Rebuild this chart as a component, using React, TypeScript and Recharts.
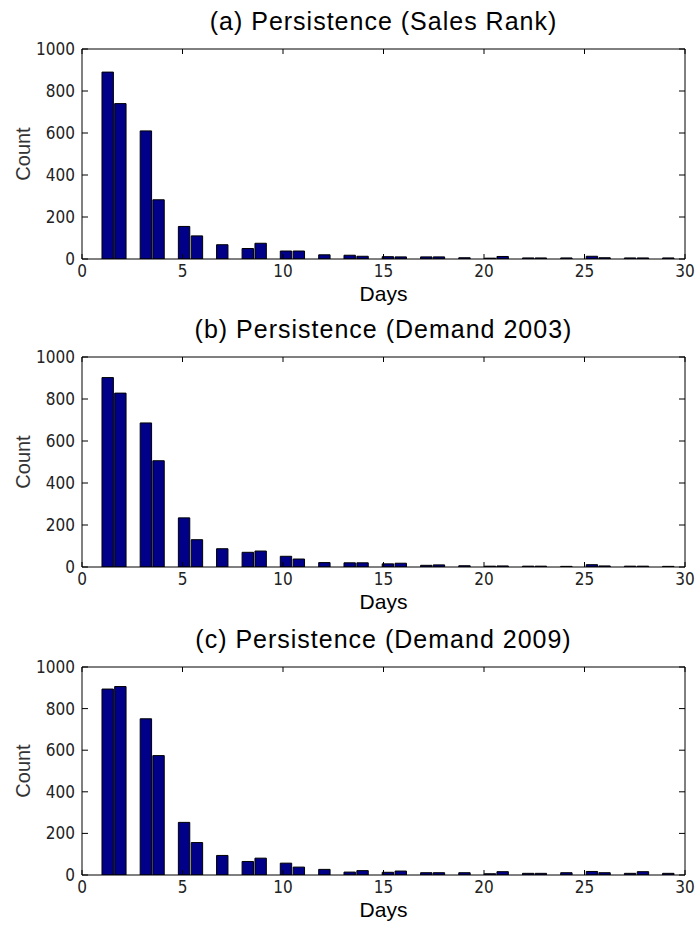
import React from "react";
import { BarChart, Bar, XAxis, YAxis } from "recharts";

// histogram bin centres (days), 45 bins
const binCenters = [
  1.26, 1.89, 2.53, 3.16, 3.79, 4.43, 5.06, 5.7, 6.33, 6.96, 7.6, 8.23, 8.87,
  9.5, 10.13, 10.77, 11.4, 12.04, 12.67, 13.3, 13.94, 14.57, 15.2, 15.84,
  16.47, 17.11, 17.74, 18.38, 19.01, 19.64, 20.28, 20.91, 21.55, 22.18, 22.81,
  23.45, 24.08, 24.71, 25.35, 25.98, 26.62, 27.25, 27.89, 28.52, 29.15,
];
const BIN_WIDTH = 0.634;

const salesRank = [
  890, 740, 0, 610, 282, 0, 155, 110, 0, 68, 0, 50, 75, 0, 38, 38, 0, 20, 0,
  18, 13, 0, 11, 10, 0, 10, 10, 0, 6, 0, 4, 12, 0, 5, 5, 0, 5, 0, 13, 6, 0, 5,
  5, 0, 5,
];
const demand2003 = [
  902, 828, 0, 686, 506, 0, 234, 130, 0, 87, 0, 70, 76, 0, 51, 38, 0, 21, 0,
  20, 20, 0, 15, 18, 0, 8, 10, 0, 6, 0, 4, 5, 0, 4, 4, 0, 3, 0, 11, 5, 0, 4, 4,
  0, 3,
];
const demand2009 = [
  894, 906, 0, 751, 574, 0, 253, 156, 0, 94, 0, 65, 81, 0, 57, 38, 0, 27, 0,
  14, 21, 0, 13, 19, 0, 11, 11, 0, 11, 0, 6, 16, 0, 8, 8, 0, 11, 0, 17, 11, 0,
  8, 16, 0, 8,
];

const xTicks = [0, 5, 10, 15, 20, 25, 30];
const yTicks = [0, 200, 400, 600, 800, 1000];

const titles = [
  "(a) Persistence (Sales Rank)",
  "(b) Persistence (Demand 2003)",
  "(c) Persistence (Demand 2009)",
];

const W = 698;
const PLOT_LEFT = 82;
const PLOT_RIGHT = 685;
const TOP_PAD = 49;
const BOTTOM_PAD = 49;
const BAR_COLOR = "#000088";
const tickFont = {
  fontFamily: "'Liberation Sans Narrow', 'DejaVu Sans Condensed', 'Liberation Sans', Arial, sans-serif",
  fontSize: 17,
  fill: "#222",
};
const labelFont = "'Liberation Sans', Arial, Helvetica, sans-serif";

function Panel({ title, counts, plotTop, plotH }: { title: string; counts: number[]; plotTop: number; plotH: number }) {
  const data = binCenters.map((x, i) => ({ x, count: counts[i] }));
  const H = TOP_PAD + plotH + BOTTOM_PAD;
  const plotW = PLOT_RIGHT - PLOT_LEFT;
  const barSize = (BIN_WIDTH / 30) * plotW;
  const midY = TOP_PAD + plotH / 2;
  return (
    <div style={{ position: "absolute", left: 0, top: plotTop - TOP_PAD, width: W, height: H }}>
      <BarChart
        width={W}
        height={H}
        data={data}
        margin={{ top: TOP_PAD - 1, right: W - PLOT_RIGHT - 1, left: PLOT_LEFT - 40, bottom: BOTTOM_PAD - 30 }}
        barCategoryGap={0}
      >
        <XAxis
          xAxisId="b"
          dataKey="x"
          type="number"
          domain={[0, 30]}
          ticks={xTicks}
          interval={0}
          allowDataOverflow
          height={30}
          tickSize={-5}
          tickMargin={11}
          axisLine={{ stroke: "#000" }}
          tickLine={{ stroke: "#000" }}
          tick={tickFont}
        />
        <XAxis
          xAxisId="t"
          dataKey="x"
          type="number"
          orientation="top"
          domain={[0, 30]}
          ticks={xTicks}
          interval={0}
          allowDataOverflow
          height={1}
          tickSize={-5}
          tickFormatter={() => ""}
          axisLine={{ stroke: "#000" }}
          tickLine={{ stroke: "#000" }}
        />
        <YAxis
          yAxisId="l"
          type="number"
          domain={[0, 1000]}
          ticks={yTicks}
          interval={0}
          allowDataOverflow
          width={40}
          tickSize={-6}
          tickMargin={13}
          axisLine={{ stroke: "#000" }}
          tickLine={{ stroke: "#000" }}
          tick={tickFont}
        />
        <YAxis
          yAxisId="r"
          type="number"
          orientation="right"
          domain={[0, 1000]}
          ticks={yTicks}
          interval={0}
          allowDataOverflow
          width={1}
          tickSize={-6}
          tickFormatter={() => ""}
          axisLine={{ stroke: "#000" }}
          tickLine={{ stroke: "#000" }}
        />
        <Bar
          xAxisId="b"
          yAxisId="l"
          dataKey="count"
          fill={BAR_COLOR}
          stroke="#000"
          strokeWidth={1}
          barSize={barSize}
          isAnimationActive={false}
        />
      </BarChart>
      <svg width={W} height={H} style={{ position: "absolute", left: 0, top: 0, pointerEvents: "none" }}>
        <text x={(PLOT_LEFT + PLOT_RIGHT) / 2} y={TOP_PAD - 19} textAnchor="middle" fontFamily={labelFont} fontSize={25} letterSpacing={1} fill="#000">
          {title}
        </text>
        <text
          x={30}
          y={midY}
          transform={`rotate(-90 30 ${midY})`}
          textAnchor="middle"
          fontFamily={labelFont}
          fontSize={20}
          fill="#333"
        >
          Count
        </text>
        <text x={(PLOT_LEFT + PLOT_RIGHT) / 2} y={TOP_PAD + plotH + 41.5} textAnchor="middle" fontFamily={labelFont} fontSize={21} fill="#000">
          Days
        </text>
      </svg>
    </div>
  );
}

export default function App() {
  return (
    <div style={{ position: "absolute", left: 0, top: 0, width: W, height: 929, background: "#fff" }}>
      <Panel title={titles[0]} counts={salesRank} plotTop={49} plotH={210} />
      <Panel title={titles[1]} counts={demand2003} plotTop={357} plotH={210} />
      <Panel title={titles[2]} counts={demand2009} plotTop={667} plotH={208} />
    </div>
  );
}
